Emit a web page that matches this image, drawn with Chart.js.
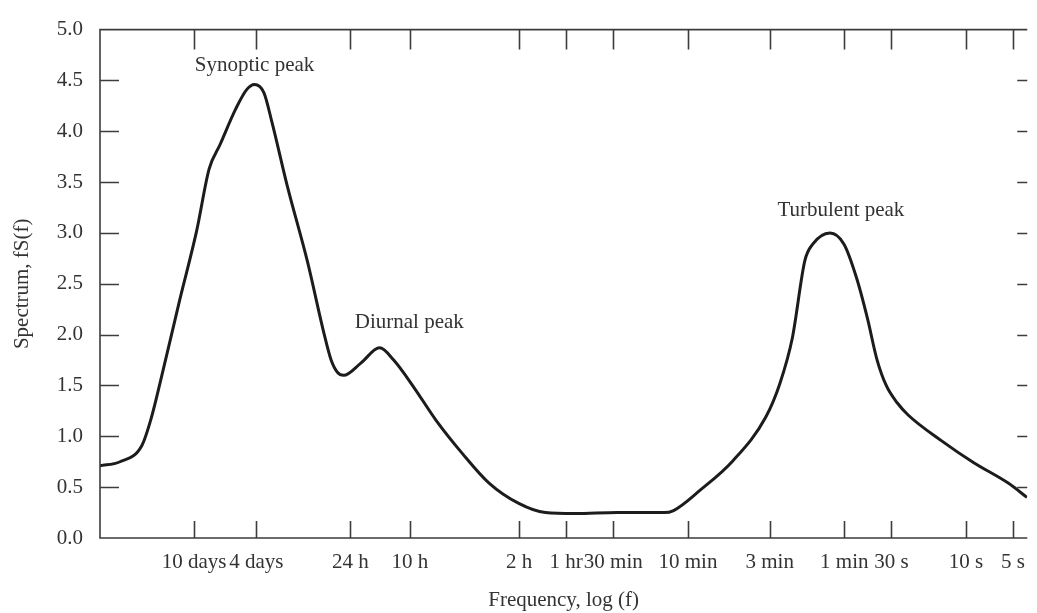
<!DOCTYPE html>
<html>
<head>
<meta charset="utf-8">
<script src="https://cdn.jsdelivr.net/npm/chart.js@4"></script>
<style>
html, body { margin: 0; padding: 0; background: #fff; overflow: hidden; }
#wrap { width: 1037px; height: 613px; }
</style>
</head>
<body>
<div id="wrap"><canvas id="spectrum"></canvas></div>
<script>
// Wind speed spectrum, f.S(f) against log frequency

// curve: x is log10 of frequency in Hz, y is f.S(f)
const curveX = [-6.54, -6.41, -6.27, -6.21, -6.15, -6.03, -5.92, -5.84, -5.77, -5.67,
    -5.60, -5.55, -5.49, -5.44, -5.34, -5.21, -5.11, -5.06, -5.02, -4.98, -4.87,
    -4.75, -4.66, -4.53, -4.39, -4.22, -4.05, -3.86, -3.69, -3.50, -3.23, -2.93, -2.87,
    -2.70, -2.49, -2.28, -2.19, -2.11, -2.03, -1.98, -1.87, -1.78, -1.70, -1.63, -1.57,
    -1.51, -1.44, -1.37, -1.16, -0.95, -0.73, -0.61];
const curveY = [0.71, 0.75, 0.91, 1.18, 1.55, 2.33, 3.02, 3.63, 3.87, 4.22,
    4.41, 4.46, 4.38, 4.10, 3.46, 2.71, 2.04, 1.75, 1.63, 1.60, 1.72,
    1.87, 1.75, 1.48, 1.16, 0.83, 0.54, 0.34, 0.25, 0.24, 0.25, 0.25, 0.27,
    0.47, 0.76, 1.19, 1.52, 1.97, 2.73, 2.89, 3.00, 2.89, 2.56, 2.16, 1.76,
    1.50, 1.33, 1.21, 0.96, 0.74, 0.54, 0.40];

// bottom axis: periods in seconds and their labels
const tickPeriods = [864000, 345600, 86400, 36000, 7200, 3600, 1800, 600, 180, 60, 30, 10, 5];
const tickLabels = ["10 days", "4 days", "24 h", "10 h", "2 h", "1 hr", "30 min", "10 min",
    "3 min", "1 min", "30 s", "10 s", "5 s"];

// peak names and where they sit (same units as the curve)
const peakNames = ["Synoptic peak", "Diurnal peak", "Turbulent peak"];
const peakX = [-5.55, -4.56, -1.80];
const peakY = [4.65, 2.12, 3.22];

const FONT = "'Liberation Serif', 'Times New Roman', serif";
const INK = '#333';

// frame on three sides + inward tick marks, and the peak names
const frameTicks = {
    id: 'frameTicks',
    afterDraw(chart) {
        const { ctx, chartArea: a, scales: { x, y } } = chart;
        ctx.save();
        ctx.strokeStyle = '#3c3c3c';
        ctx.lineWidth = 1.6;
        ctx.beginPath();
        ctx.moveTo(a.right, a.top);
        ctx.lineTo(a.left, a.top);
        ctx.lineTo(a.left, a.bottom);
        ctx.lineTo(a.right, a.bottom);
        x.ticks.forEach(t => {
            const px = Math.round(x.getPixelForValue(t.value)) + 0.5;
            ctx.moveTo(px, a.bottom); ctx.lineTo(px, a.bottom - 17);
            ctx.moveTo(px, a.top); ctx.lineTo(px, a.top + 20);
        });
        y.ticks.forEach(t => {
            if (t.value <= 0 || t.value >= 5) return;
            const py = Math.round(y.getPixelForValue(t.value)) + 0.5;
            ctx.moveTo(a.left, py); ctx.lineTo(a.left + 19, py);
            ctx.moveTo(a.right, py); ctx.lineTo(a.right - 10, py);
        });
        ctx.stroke();

        ctx.fillStyle = INK;
        ctx.font = '21px ' + FONT;
        ctx.textAlign = 'center';
        ctx.textBaseline = 'middle';
        peakNames.forEach((name, i) => {
            ctx.fillText(name, x.getPixelForValue(peakX[i]), y.getPixelForValue(peakY[i]));
        });
        ctx.restore();
    }
};

new Chart(document.getElementById("spectrum"), {
    type: 'line',
    data: {
        datasets: [{
            data: curveX.map((v, i) => ({ x: v, y: curveY[i] })),
            borderColor: '#1c1c1c',
            borderWidth: 3,
            pointRadius: 0,
            cubicInterpolationMode: 'monotone',
            fill: false
        }]
    },
    options: {
        responsive: true,
        maintainAspectRatio: false,
        animation: false,
        layout: { padding: { top: 28, right: 0, bottom: 0, left: 0 } },
        plugins: {
            legend: { display: false },
            tooltip: { enabled: false }
        },
        scales: {
            x: {
                type: 'linear',
                min: -6.538,
                max: -0.608,
                grid: { display: false, drawTicks: false },
                border: { display: false },
                afterBuildTicks: scale => {
                    scale.ticks = tickPeriods.map(p => ({ value: -Math.log10(p) }));
                },
                afterFit: scale => { scale.height = 75; },
                ticks: {
                    autoSkip: false,
                    maxRotation: 0,
                    padding: 12,
                    color: INK,
                    font: { family: FONT, size: 21 },
                    callback: (v, i) => tickLabels[i]
                },
                title: {
                    display: true,
                    text: 'Frequency, log (f)',
                    color: INK,
                    font: { family: FONT, size: 21 },
                    padding: { top: 0, bottom: 0 }
                }
            },
            y: {
                min: 0,
                max: 5,
                grid: { display: false, drawTicks: false },
                border: { display: false },
                afterFit: scale => { scale.width = 100; },
                ticks: {
                    stepSize: 0.5,
                    padding: 17,
                    color: INK,
                    font: { family: FONT, size: 21 },
                    callback: v => v.toFixed(1)
                },
                title: {
                    display: true,
                    text: 'Spectrum, fS(f)',
                    color: INK,
                    font: { family: FONT, size: 21 },
                    padding: { top: 10, bottom: 0 }
                }
            }
        }
    },
    plugins: [frameTicks]
});
</script>
</body>
</html>
